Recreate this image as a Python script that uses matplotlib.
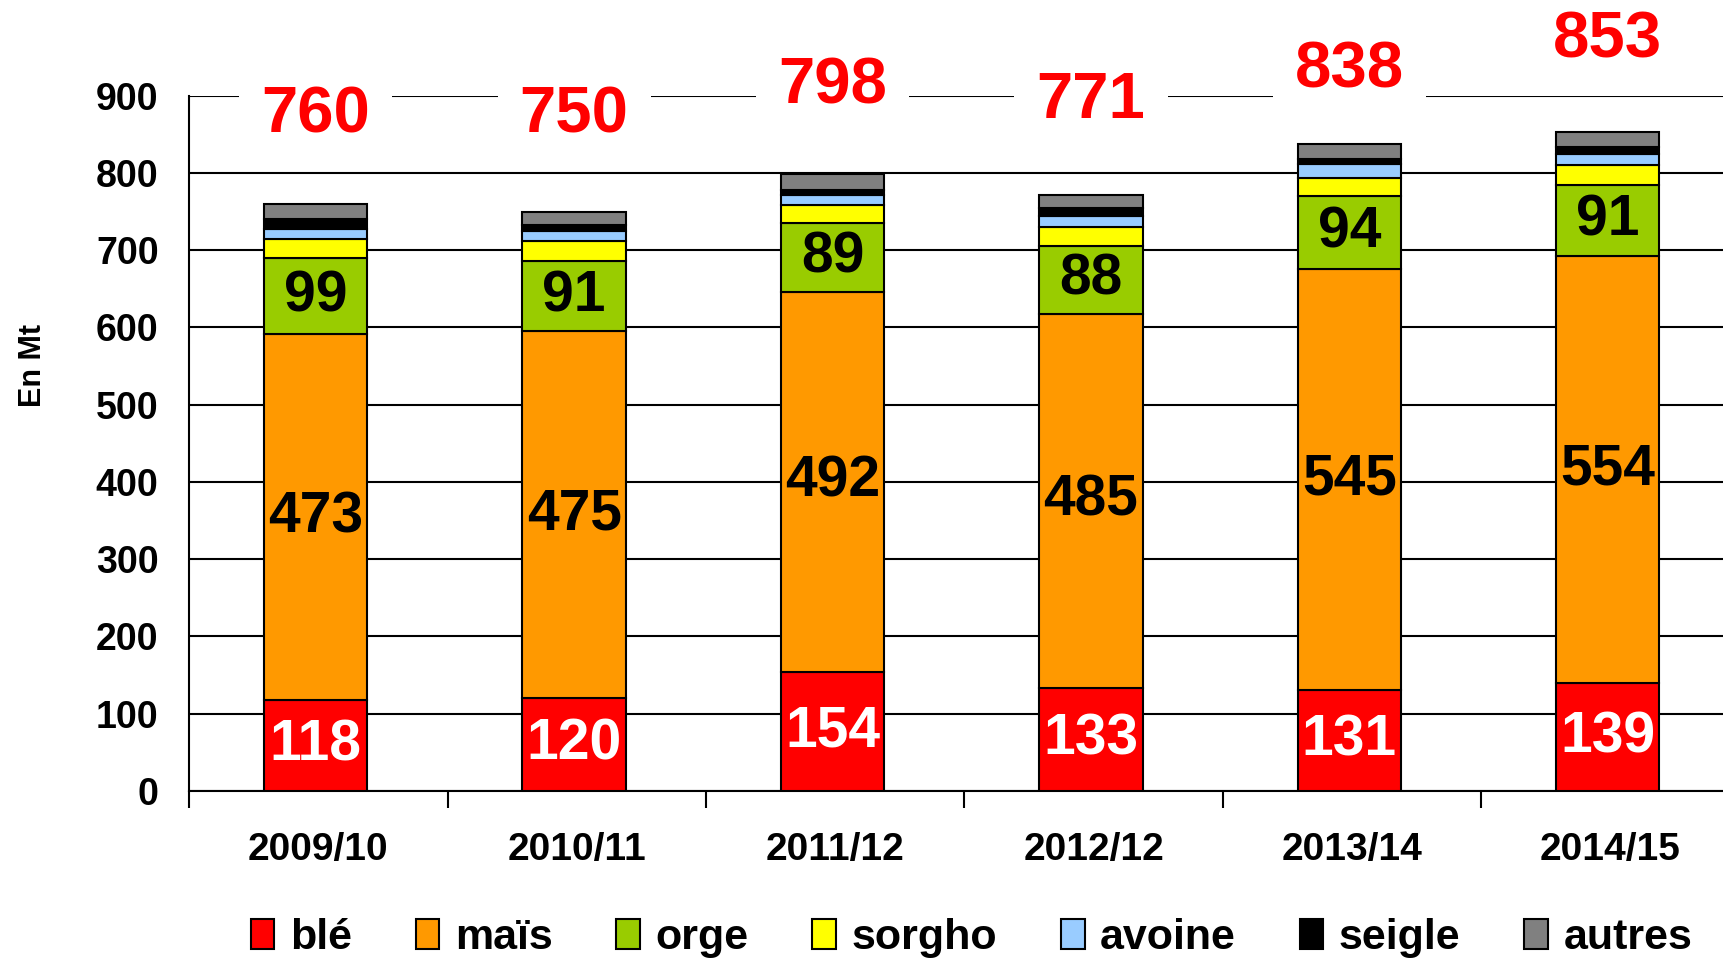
import numpy as np
import matplotlib.pyplot as plt

plt.rcParams['font.family'] = ['Liberation Sans', 'DejaVu Sans']
plt.rcParams['font.weight'] = 'bold'

seasons = ['2009/10', '2010/11', '2011/12', '2012/12', '2013/14', '2014/15']
ble = [118, 120, 154, 133, 131, 139]
mais = [473, 475, 492, 485, 545, 554]
orge = [99, 91, 89, 88, 94, 91]
sorgho = [25, 26, 24, 24, 24, 26]
avoine = [13, 13, 13, 14, 17, 15]
seigle = [12, 8, 6, 10, 7, 9]
autres = [20, 17, 20, 17, 20, 19]
totals = [760, 750, 798, 771, 838, 853]

series = [('blé', ble, '#FF0000'), ('maïs', mais, '#FF9900'), ('orge', orge, '#99CC00'),
          ('sorgho', sorgho, '#FFFF00'), ('avoine', avoine, '#99CCFF'),
          ('seigle', seigle, '#000000'), ('autres', autres, '#808080')]

fig = plt.figure(figsize=(17.24, 9.58), dpi=100)
ax = fig.add_axes([0.1097, 0.1745, 0.8993, 0.7256])

x = np.arange(len(seasons))
bottom = np.zeros(len(seasons))
for name, vals, color in series:
    vals = np.array(vals, dtype=float)
    ax.bar(x - 0.01, vals, 0.40, bottom=bottom, color=color, edgecolor='black', linewidth=1.5,
           label=name, zorder=3)
    # value labels for the three big segments
    if name in ('blé', 'maïs', 'orge'):
        txt_color = 'white' if name == 'blé' else 'black'
        for xi, b, v in zip(x, bottom, vals):
            ax.text(xi - 0.01, b + v / 2, f'{int(v)}', ha='center', va='center', fontsize=41,
                    fontweight='bold', color=txt_color, zorder=4)
    bottom += vals

# totals above the bars, white box hides the 900 gridline
label_offsets = [115, 125, 114, 122, 94, 118]
for xi, t, off in zip(x, totals, label_offsets):
    ax.text(xi - 0.01, t + off, str(t), ha='center', va='center', fontsize=47, fontweight='bold',
            color='#FF0000', clip_on=False, zorder=5,
            bbox=dict(facecolor='white', edgecolor='none', pad=16))

ax.set_ylim(0, 900)
ax.set_xlim(-0.5, 5.5)
ax.set_yticks(range(0, 901, 100))
ax.yaxis.grid(True, color='black', linewidth=1.5, zorder=0)
ax.set_axisbelow(True)
ax.tick_params(axis='y', length=0, pad=22, labelsize=27)

ax.set_xticks(x)
ax.set_xticklabels(seasons)
ax.set_xticks(np.arange(-0.5, 6, 1), minor=True)
ax.tick_params(axis='x', which='major', length=0, pad=30, labelsize=28)
ax.tick_params(axis='x', which='minor', length=12, width=1.5, direction='out')

for side in ('top', 'right'):
    ax.spines[side].set_visible(False)
ax.spines['left'].set_linewidth(1.5)
ax.spines['bottom'].set_linewidth(1.5)

ax.set_ylabel('En Mt', fontsize=22, fontweight='bold')
ax.yaxis.set_label_coords(-0.091, 0.612)

handles, labels = ax.get_legend_handles_labels()
fig.legend(handles, labels, loc='center', bbox_to_anchor=(0.5635, 0.021), ncol=7,
           frameon=False, fontsize=31, handlelength=0.55, handleheight=0.7,
           handletextpad=0.36, columnspacing=1.48)

fig.savefig('out.png', dpi=100)
